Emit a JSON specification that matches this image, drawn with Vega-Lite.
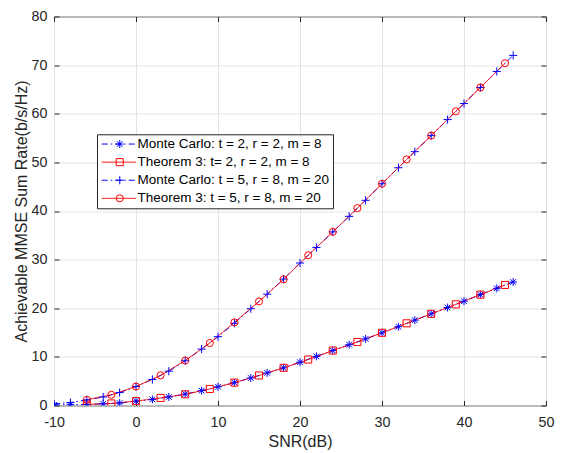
{
  "$schema": "https://vega.github.io/schema/vega-lite/v6.json",
  "autosize": {"type": "none"},
  "padding": {"left": 54, "top": 16.5, "right": 19, "bottom": 47.7},
  "width": 492,
  "height": 389,
  "background": "white",
  "config": {
    "view": {"stroke": "#262626", "strokeWidth": 1},
    "font": "Liberation Sans",
    "axis": {"labelFont": "Liberation Sans", "titleFont": "Liberation Sans", "labelColor": "#262626", "titleColor": "#262626", "tickColor": "#262626", "domainColor": "#262626", "gridColor": "#e3e3e3", "gridOpacity": 1, "titleFontWeight": "normal", "labelFlush": false}
  },
  "data": {"values": [
    {"snr": -10, "rate": 0.1, "series": "Monte Carlo: t = 2, r = 2, m = 8"},
    {"snr": -8, "rate": 0.15, "series": "Monte Carlo: t = 2, r = 2, m = 8"},
    {"snr": -6, "rate": 0.22, "series": "Monte Carlo: t = 2, r = 2, m = 8"},
    {"snr": -4, "rate": 0.35, "series": "Monte Carlo: t = 2, r = 2, m = 8"},
    {"snr": -2, "rate": 0.5, "series": "Monte Carlo: t = 2, r = 2, m = 8"},
    {"snr": 0, "rate": 0.9, "series": "Monte Carlo: t = 2, r = 2, m = 8"},
    {"snr": 2, "rate": 1.25, "series": "Monte Carlo: t = 2, r = 2, m = 8"},
    {"snr": 4, "rate": 1.75, "series": "Monte Carlo: t = 2, r = 2, m = 8"},
    {"snr": 6, "rate": 2.35, "series": "Monte Carlo: t = 2, r = 2, m = 8"},
    {"snr": 8, "rate": 3.05, "series": "Monte Carlo: t = 2, r = 2, m = 8"},
    {"snr": 10, "rate": 3.85, "series": "Monte Carlo: t = 2, r = 2, m = 8"},
    {"snr": 12, "rate": 4.7, "series": "Monte Carlo: t = 2, r = 2, m = 8"},
    {"snr": 14, "rate": 5.65, "series": "Monte Carlo: t = 2, r = 2, m = 8"},
    {"snr": 16, "rate": 6.7, "series": "Monte Carlo: t = 2, r = 2, m = 8"},
    {"snr": 18, "rate": 7.75, "series": "Monte Carlo: t = 2, r = 2, m = 8"},
    {"snr": 20, "rate": 8.9, "series": "Monte Carlo: t = 2, r = 2, m = 8"},
    {"snr": 22, "rate": 10.1, "series": "Monte Carlo: t = 2, r = 2, m = 8"},
    {"snr": 24, "rate": 11.3, "series": "Monte Carlo: t = 2, r = 2, m = 8"},
    {"snr": 26, "rate": 12.5, "series": "Monte Carlo: t = 2, r = 2, m = 8"},
    {"snr": 28, "rate": 13.7, "series": "Monte Carlo: t = 2, r = 2, m = 8"},
    {"snr": 30, "rate": 14.95, "series": "Monte Carlo: t = 2, r = 2, m = 8"},
    {"snr": 32, "rate": 16.2, "series": "Monte Carlo: t = 2, r = 2, m = 8"},
    {"snr": 34, "rate": 17.55, "series": "Monte Carlo: t = 2, r = 2, m = 8"},
    {"snr": 36, "rate": 18.85, "series": "Monte Carlo: t = 2, r = 2, m = 8"},
    {"snr": 38, "rate": 20.15, "series": "Monte Carlo: t = 2, r = 2, m = 8"},
    {"snr": 40, "rate": 21.45, "series": "Monte Carlo: t = 2, r = 2, m = 8"},
    {"snr": 42, "rate": 22.8, "series": "Monte Carlo: t = 2, r = 2, m = 8"},
    {"snr": 44, "rate": 24.1, "series": "Monte Carlo: t = 2, r = 2, m = 8"},
    {"snr": 46, "rate": 25.4, "series": "Monte Carlo: t = 2, r = 2, m = 8"},
    {"snr": -6, "rate": 0.2, "series": "Theorem 3: t= 2, r = 2, m = 8"},
    {"snr": -3, "rate": 0.42, "series": "Theorem 3: t= 2, r = 2, m = 8"},
    {"snr": 0, "rate": 0.9, "series": "Theorem 3: t= 2, r = 2, m = 8"},
    {"snr": 3, "rate": 1.55, "series": "Theorem 3: t= 2, r = 2, m = 8"},
    {"snr": 6, "rate": 2.3, "series": "Theorem 3: t= 2, r = 2, m = 8"},
    {"snr": 9, "rate": 3.4, "series": "Theorem 3: t= 2, r = 2, m = 8"},
    {"snr": 12, "rate": 4.7, "series": "Theorem 3: t= 2, r = 2, m = 8"},
    {"snr": 15, "rate": 6.17, "series": "Theorem 3: t= 2, r = 2, m = 8"},
    {"snr": 18, "rate": 7.75, "series": "Theorem 3: t= 2, r = 2, m = 8"},
    {"snr": 21, "rate": 9.45, "series": "Theorem 3: t= 2, r = 2, m = 8"},
    {"snr": 24, "rate": 11.3, "series": "Theorem 3: t= 2, r = 2, m = 8"},
    {"snr": 27, "rate": 13.05, "series": "Theorem 3: t= 2, r = 2, m = 8"},
    {"snr": 30, "rate": 14.95, "series": "Theorem 3: t= 2, r = 2, m = 8"},
    {"snr": 33, "rate": 16.9, "series": "Theorem 3: t= 2, r = 2, m = 8"},
    {"snr": 36, "rate": 18.85, "series": "Theorem 3: t= 2, r = 2, m = 8"},
    {"snr": 39, "rate": 20.8, "series": "Theorem 3: t= 2, r = 2, m = 8"},
    {"snr": 42, "rate": 22.8, "series": "Theorem 3: t= 2, r = 2, m = 8"},
    {"snr": 45, "rate": 24.8, "series": "Theorem 3: t= 2, r = 2, m = 8"},
    {"snr": -10, "rate": 0.35, "series": "Monte Carlo: t = 5, r = 8, m = 20"},
    {"snr": -8, "rate": 0.6, "series": "Monte Carlo: t = 5, r = 8, m = 20"},
    {"snr": -6, "rate": 1.15, "series": "Monte Carlo: t = 5, r = 8, m = 20"},
    {"snr": -4, "rate": 1.75, "series": "Monte Carlo: t = 5, r = 8, m = 20"},
    {"snr": -2, "rate": 2.65, "series": "Monte Carlo: t = 5, r = 8, m = 20"},
    {"snr": 0, "rate": 3.9, "series": "Monte Carlo: t = 5, r = 8, m = 20"},
    {"snr": 2, "rate": 5.35, "series": "Monte Carlo: t = 5, r = 8, m = 20"},
    {"snr": 4, "rate": 7.05, "series": "Monte Carlo: t = 5, r = 8, m = 20"},
    {"snr": 6, "rate": 9.2, "series": "Monte Carlo: t = 5, r = 8, m = 20"},
    {"snr": 8, "rate": 11.6, "series": "Monte Carlo: t = 5, r = 8, m = 20"},
    {"snr": 10, "rate": 14.15, "series": "Monte Carlo: t = 5, r = 8, m = 20"},
    {"snr": 12, "rate": 16.9, "series": "Monte Carlo: t = 5, r = 8, m = 20"},
    {"snr": 14, "rate": 19.9, "series": "Monte Carlo: t = 5, r = 8, m = 20"},
    {"snr": 16, "rate": 22.9, "series": "Monte Carlo: t = 5, r = 8, m = 20"},
    {"snr": 18, "rate": 26.0, "series": "Monte Carlo: t = 5, r = 8, m = 20"},
    {"snr": 20, "rate": 29.3, "series": "Monte Carlo: t = 5, r = 8, m = 20"},
    {"snr": 22, "rate": 32.5, "series": "Monte Carlo: t = 5, r = 8, m = 20"},
    {"snr": 24, "rate": 35.7, "series": "Monte Carlo: t = 5, r = 8, m = 20"},
    {"snr": 26, "rate": 38.9, "series": "Monte Carlo: t = 5, r = 8, m = 20"},
    {"snr": 28, "rate": 42.2, "series": "Monte Carlo: t = 5, r = 8, m = 20"},
    {"snr": 30, "rate": 45.6, "series": "Monte Carlo: t = 5, r = 8, m = 20"},
    {"snr": 32, "rate": 48.9, "series": "Monte Carlo: t = 5, r = 8, m = 20"},
    {"snr": 34, "rate": 52.2, "series": "Monte Carlo: t = 5, r = 8, m = 20"},
    {"snr": 36, "rate": 55.5, "series": "Monte Carlo: t = 5, r = 8, m = 20"},
    {"snr": 38, "rate": 58.8, "series": "Monte Carlo: t = 5, r = 8, m = 20"},
    {"snr": 40, "rate": 62.1, "series": "Monte Carlo: t = 5, r = 8, m = 20"},
    {"snr": 42, "rate": 65.4, "series": "Monte Carlo: t = 5, r = 8, m = 20"},
    {"snr": 44, "rate": 68.7, "series": "Monte Carlo: t = 5, r = 8, m = 20"},
    {"snr": 46, "rate": 72.0, "series": "Monte Carlo: t = 5, r = 8, m = 20"},
    {"snr": -6, "rate": 1.17, "series": "Theorem 3: t = 5, r = 8, m = 20"},
    {"snr": -3, "rate": 2.2, "series": "Theorem 3: t = 5, r = 8, m = 20"},
    {"snr": 0, "rate": 3.9, "series": "Theorem 3: t = 5, r = 8, m = 20"},
    {"snr": 3, "rate": 6.2, "series": "Theorem 3: t = 5, r = 8, m = 20"},
    {"snr": 6, "rate": 9.25, "series": "Theorem 3: t = 5, r = 8, m = 20"},
    {"snr": 9, "rate": 12.85, "series": "Theorem 3: t = 5, r = 8, m = 20"},
    {"snr": 12, "rate": 17.1, "series": "Theorem 3: t = 5, r = 8, m = 20"},
    {"snr": 15, "rate": 21.4, "series": "Theorem 3: t = 5, r = 8, m = 20"},
    {"snr": 18, "rate": 25.95, "series": "Theorem 3: t = 5, r = 8, m = 20"},
    {"snr": 21, "rate": 30.9, "series": "Theorem 3: t = 5, r = 8, m = 20"},
    {"snr": 24, "rate": 35.7, "series": "Theorem 3: t = 5, r = 8, m = 20"},
    {"snr": 27, "rate": 40.6, "series": "Theorem 3: t = 5, r = 8, m = 20"},
    {"snr": 30, "rate": 45.6, "series": "Theorem 3: t = 5, r = 8, m = 20"},
    {"snr": 33, "rate": 50.6, "series": "Theorem 3: t = 5, r = 8, m = 20"},
    {"snr": 36, "rate": 55.5, "series": "Theorem 3: t = 5, r = 8, m = 20"},
    {"snr": 39, "rate": 60.5, "series": "Theorem 3: t = 5, r = 8, m = 20"},
    {"snr": 42, "rate": 65.4, "series": "Theorem 3: t = 5, r = 8, m = 20"},
    {"snr": 45, "rate": 70.4, "series": "Theorem 3: t = 5, r = 8, m = 20"}
  ]},
  "layer": [
    {
      "mark": {"type": "line", "strokeWidth": 1, "clip": true},
      "encoding": {
        "x": {"field": "snr", "type": "quantitative", "scale": {"domain": [-10, 50], "nice": false, "zero": false},
              "axis": {"orient": "bottom", "values": [-10, 0, 10, 20, 30, 40, 50], "labelExpr": "datum.value < 0 ? '-' + abs(datum.value) : datum.label", "grid": true, "domain": false, "tickSize": -5, "labelFontSize": 14.3, "labelPadding": 15, "title": "SNR(dB)", "titleFontSize": 16, "titlePadding": 4}},
        "y": {"field": "rate", "type": "quantitative", "scale": {"domain": [0, 80], "nice": false},
              "axis": {"orient": "left", "values": [0, 10, 20, 30, 40, 50, 60, 70, 80], "grid": true, "domain": false, "tickSize": -5, "labelFontSize": 14.3, "labelPadding": 12, "title": "Achievable MMSE Sum Rate(b/s/Hz)", "titleFontSize": 16, "titlePadding": 1.5}},
        "stroke": {"field": "series", "type": "nominal",
              "scale": {"domain": ["Monte Carlo: t = 2, r = 2, m = 8", "Theorem 3: t= 2, r = 2, m = 8", "Monte Carlo: t = 5, r = 8, m = 20", "Theorem 3: t = 5, r = 8, m = 20"], "range": ["#0000ff", "#ff0000", "#0000ff", "#ff0000"]},
              "legend": {"orient": "none", "legendX": 43, "legendY": 117.8, "title": null, "symbolType": "M-1,0L5.8,0", "symbolSize": 100, "symbolStrokeWidth": 1, "labelFontSize": 13.5, "labelFont": "Liberation Sans", "labelColor": "#000000", "labelOffset": 24, "labelLimit": 400, "padding": 3, "rowPadding": 3.1, "fillColor": "white", "strokeColor": "#262626"}},
        "strokeDash": {"field": "series", "type": "nominal",
              "scale": {"domain": ["Monte Carlo: t = 2, r = 2, m = 8", "Theorem 3: t= 2, r = 2, m = 8", "Monte Carlo: t = 5, r = 8, m = 20", "Theorem 3: t = 5, r = 8, m = 20"], "range": [[6, 3, 1.5, 3], [1, 0], [6, 3, 1.5, 3], [1, 0]]}}
      }
    },
    {
      "mark": {"type": "point", "filled": false, "strokeWidth": 1, "size": 50, "opacity": 1, "clip": true},
      "encoding": {
        "x": {"field": "snr", "type": "quantitative",
              "axis": {"orient": "top", "values": [-10, 0, 10, 20, 30, 40, 50], "grid": false, "domain": false, "labels": false, "tickSize": -5, "title": null}},
        "y": {"field": "rate", "type": "quantitative",
              "axis": {"orient": "right", "values": [0, 10, 20, 30, 40, 50, 60, 70, 80], "grid": false, "domain": false, "labels": false, "tickSize": -5, "title": null}},
        "color": {"field": "series", "type": "nominal",
              "scale": {"domain": ["Monte Carlo: t = 2, r = 2, m = 8", "Monte Carlo: t = 5, r = 8, m = 20", "Theorem 3: t= 2, r = 2, m = 8", "Theorem 3: t = 5, r = 8, m = 20"], "range": ["#0000ff", "#0000ff", "#ff0000", "#ff0000"]},
              "legend": {"orient": "none", "legendX": 56, "legendY": 117.8, "title": null, "values": ["Monte Carlo: t = 2, r = 2, m = 8", "Theorem 3: t= 2, r = 2, m = 8", "Monte Carlo: t = 5, r = 8, m = 20", "Theorem 3: t = 5, r = 8, m = 20"], "symbolSize": 50, "symbolStrokeWidth": 1, "labelFontSize": 13.5, "labelFont": "Liberation Sans", "labelExpr": "''", "labelOffset": 4, "padding": 3, "rowPadding": 3.1}},
        "shape": {"field": "series", "type": "nominal",
              "scale": {"domain": ["Monte Carlo: t = 2, r = 2, m = 8", "Monte Carlo: t = 5, r = 8, m = 20", "Theorem 3: t= 2, r = 2, m = 8", "Theorem 3: t = 5, r = 8, m = 20"], "range": ["M-1.12,0L1.12,0M0,-1.12L0,1.12M-0.8,-0.8L0.8,0.8M-0.8,0.8L0.8,-0.8", "M-1.15,0L1.15,0M0,-1.15L0,1.15", "square", "circle"]}}
      }
    }
  ],
  "resolve": {"axis": {"x": "independent", "y": "independent"}}
}
